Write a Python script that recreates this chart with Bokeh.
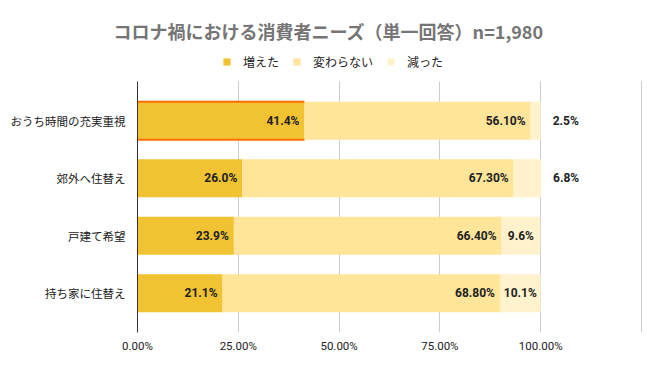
from bokeh.plotting import figure
from bokeh.models import (ColumnDataSource, Range1d, FixedTicker, Legend, LegendItem,
                          Title, PrintfTickFormatter)
from bokeh.core.properties import value
from bokeh.embed import file_html
from bokeh.resources import INLINE

# ---------------- data ----------------
title_text = "コロナ禍における消費者ニーズ（単一回答）n=1,980"
categories = ["おうち時間の充実重視", "郊外へ住替え", "戸建て希望", "持ち家に住替え"]
series_names = ["増えた", "変わらない", "減った"]
increased = [41.4, 26.0, 23.9, 21.1]
unchanged = [56.1, 67.3, 66.4, 68.8]
decreased = [2.5, 6.8, 9.6, 10.1]
x_ticks = [0, 25, 50, 75, 100]
grid_ticks = [25, 50, 75, 100, 125]
x_max = 125
highlight_index = 0

# ---------------- style ----------------
colors = ["#f1c232", "#ffe599", "#fff2cc"]
HL_COLOR = "#ff6d00"
TXT = "#212121"
JP = "Noto Sans CJK JP"
LAT = "Roboto"
BAR_H = 0.66
PAD = 0.683
TOP_EXTRA = 0.591   # room above the bars for the legend

n = len(categories)
ypos = list(range(n))
s1 = list(increased)
s2 = [a + b for a, b in zip(increased, unchanged)]
s3 = [a + d for a, d in zip(s2, decreased)]

p = figure(width=660, height=371, output_backend="svg", toolbar_location=None,
           title=None,
           x_range=Range1d(0, x_max * 1.008),
           y_range=Range1d(n - 1 + PAD, -PAD - TOP_EXTRA),
           min_border_left=137, min_border_right=15, min_border_top=47,
           min_border_bottom=39)
p.outline_line_color = None
p.background_fill_color = "white"
p.border_fill_color = "white"

src = ColumnDataSource(dict(y=ypos, z=[0] * n, s1=s1, s2=s2, s3=s3))
r1 = p.hbar(y="y", left="z", right="s1", height=BAR_H, source=src,
            fill_color=colors[0], line_color=None)
r2 = p.hbar(y="y", left="s1", right="s2", height=BAR_H, source=src,
            fill_color=colors[1], line_color=None)
r3 = p.hbar(y="y", left="s2", right="s3", height=BAR_H, source=src,
            fill_color=colors[2], line_color=None)

# highlight border (top and bottom edges) on selected bar's first segment
hy = ypos[highlight_index]
hsrc = ColumnDataSource(dict(x0=[0, 0], x1=[s1[highlight_index]] * 2,
                             y=[hy - BAR_H / 2, hy + BAR_H / 2]))
p.segment(x0="x0", y0="y", x1="x1", y1="y", source=hsrc, line_color=HL_COLOR,
          line_width=2)

# data labels
lab1 = ColumnDataSource(dict(x=s1, y=ypos, t=[f"{v:.1f}%" for v in increased]))
p.text(x="x", y="y", text="t", source=lab1, text_align="right", text_baseline="middle",
       x_offset=-5, text_font=value(LAT), text_font_style="bold",
       text_font_size="12px", text_color=TXT)
lab2 = ColumnDataSource(dict(x=s2, y=ypos, t=[f"{v:.2f}%" for v in unchanged]))
p.text(x="x", y="y", text="t", source=lab2, text_align="right", text_baseline="middle",
       x_offset=-5, text_font=value(LAT), text_font_style="bold",
       text_font_size="12px", text_color=TXT)
inside = [d >= 9.0 for d in decreased]
lab3i = ColumnDataSource(dict(
    x=[(a + b) / 2 for a, b, k in zip(s2, s3, inside) if k],
    y=[y for y, k in zip(ypos, inside) if k],
    t=[f"{d:.1f}%" for d, k in zip(decreased, inside) if k]))
p.text(x="x", y="y", text="t", source=lab3i, text_align="center", text_baseline="middle",
       text_font=value(LAT), text_font_style="bold",
       text_font_size="12px", text_color=TXT)
lab3o = ColumnDataSource(dict(
    x=[b for b, k in zip(s3, inside) if not k],
    y=[y for y, k in zip(ypos, inside) if not k],
    t=[f"{d:.1f}%" for d, k in zip(decreased, inside) if not k]))
p.text(x="x", y="y", text="t", source=lab3o, text_align="left", text_baseline="middle",
       x_offset=12, text_font=value(LAT), text_font_style="bold",
       text_font_size="12px", text_color=TXT)

# axes
p.xaxis.ticker = FixedTicker(ticks=x_ticks)
p.xaxis.formatter = PrintfTickFormatter(format="%.2f%%")
p.xaxis.axis_line_color = None
p.xaxis.major_tick_line_color = None
p.xaxis.minor_tick_line_color = None
p.xaxis.major_label_text_font = LAT
p.xaxis.major_label_text_font_size = "11.5px"
p.xaxis.major_label_text_color = TXT
p.xaxis.major_label_standoff = 0

p.yaxis.ticker = FixedTicker(ticks=ypos)
p.yaxis.bounds = (-PAD, n - 1 + PAD)
p.yaxis.major_label_overrides = {i: c for i, c in zip(ypos, categories)}
p.yaxis.axis_line_color = "#333333"
p.yaxis.axis_line_width = 1
p.yaxis.major_tick_line_color = None
p.yaxis.minor_tick_line_color = None
p.yaxis.major_label_text_font = JP
p.yaxis.major_label_text_font_size = "11.5px"
p.yaxis.major_label_text_color = TXT
p.yaxis.major_label_standoff = 6

p.xgrid.ticker = FixedTicker(ticks=grid_ticks)
p.xgrid.cross_bounds = (-PAD, n - 1 + PAD)
p.xgrid.grid_line_color = "#cccccc"
p.ygrid.grid_line_color = None

# legend (inside the extended frame, above the bars)
legend = Legend(items=[LegendItem(label=s, renderers=[r])
                       for s, r in zip(series_names, [r1, r2, r3])],
                orientation="horizontal", location=(85, 262),
                glyph_width=9, glyph_height=9, label_standoff=12, spacing=13,
                padding=0, margin=0, border_line_color=None,
                background_fill_alpha=0, label_text_font_size="12px",
                label_text_font=JP, label_text_color=TXT, label_height=12)
p.add_layout(legend, "center")

# title
p.add_layout(Title(text=title_text, align="left", offset=-24,
                   text_font=JP, text_font_style="bold", text_font_size="18px",
                   text_color="#757575", standoff=8), "above")

open("out.html", "w").write(file_html(p, INLINE))
